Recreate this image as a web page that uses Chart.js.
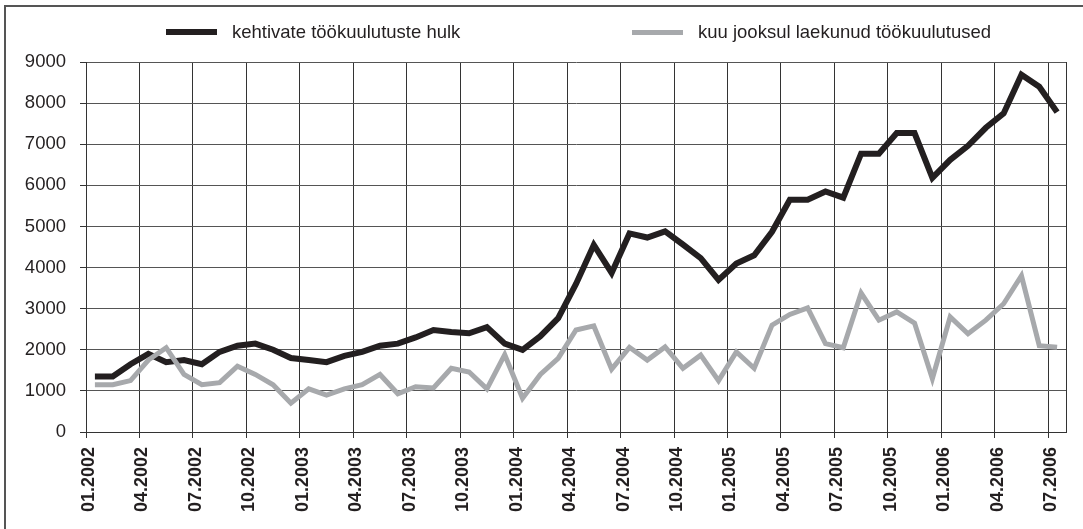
<!DOCTYPE html>
<html>
<head>
<meta charset="utf-8">
<script src="https://cdn.jsdelivr.net/npm/chart.js@4.4.1/dist/chart.umd.min.js"></script>
<style>
html, body { margin: 0; padding: 0; background: #fff; }
#wrap { position: relative; width: 1083px; height: 529px; }
</style>
</head>
<body>
<div id="wrap"><canvas id="graafik" width="1083" height="529"></canvas></div>
<script>
// --- ANDMED ---
const kuud = [
    '01.2002','02.2002','03.2002','04.2002','05.2002','06.2002','07.2002','08.2002','09.2002','10.2002','11.2002','12.2002',
    '01.2003','02.2003','03.2003','04.2003','05.2003','06.2003','07.2003','08.2003','09.2003','10.2003','11.2003','12.2003',
    '01.2004','02.2004','03.2004','04.2004','05.2004','06.2004','07.2004','08.2004','09.2004','10.2004','11.2004','12.2004',
    '01.2005','02.2005','03.2005','04.2005','05.2005','06.2005','07.2005','08.2005','09.2005','10.2005','11.2005','12.2005',
    '01.2006','02.2006','03.2006','04.2006','05.2006','06.2006','07.2006'
];

const tickSildid = [
    '01.2002','04.2002','07.2002','10.2002','01.2003','04.2003','07.2003','10.2003','01.2004','04.2004',
    '07.2004','10.2004','01.2005','04.2005','07.2005','10.2005','01.2006','04.2006','07.2006'
];

const kehtivad = [
    1350, 1350, 1650, 1900, 1700, 1750, 1650, 1950, 2100, 2150, 2000, 1800,
    1750, 1700, 1850, 1950, 2100, 2150, 2300, 2480, 2430, 2400, 2550, 2150,
    2000, 2330, 2770, 3600, 4550, 3870, 4830, 4730, 4880, 4560, 4230, 3700,
    4100, 4300, 4870, 5650, 5650, 5850, 5700, 6770, 6770, 7270, 7270, 6180,
    6620, 6960, 7400, 7750, 8690, 8400, 7780
];

const laekunud = [
    1150, 1150, 1250, 1750, 2050, 1400, 1150, 1200, 1600, 1400, 1150, 700,
    1050, 900, 1050, 1150, 1400, 930, 1100, 1070, 1550, 1460, 1050, 1880,
    820, 1400, 1790, 2480, 2580, 1530, 2060, 1750, 2070, 1550, 1870, 1250,
    1950, 1550, 2600, 2860, 3020, 2150, 2050, 3380, 2720, 2920, 2650, 1300,
    2800, 2390, 2720, 3120, 3800, 2100, 2060
];

const silt1 = 'kehtivate töökuulutuste hulk';
const silt2 = 'kuu jooksul laekunud töökuulutused';

const MUST = '#231f20';
const HALL = '#a7a9ac';
const FONT = "'Liberation Sans', Arial, sans-serif";

function punktid(arr) {
    return arr.map((v, i) => ({ x: i, y: v }));
}

// tickid kuu piiril (iga 3 kuud) + parem serv
const tickKohad = tickSildid.map((_, k) => k * 3 - 0.5);
tickKohad.push(kuud.length - 0.5);

// --- RAAM JA LEGEND ---
const raamJaLegend = {
    id: 'raamJaLegend',
    beforeDraw(chart) {
        const ctx = chart.ctx;
        ctx.save();
        ctx.fillStyle = '#fff';
        ctx.fillRect(0, 0, chart.width, chart.height);
        ctx.strokeStyle = '#555';
        ctx.lineWidth = 2;
        ctx.beginPath();
        ctx.moveTo(5, 560);
        ctx.lineTo(5, 6);
        ctx.lineTo(1100, 6);
        ctx.stroke();
        ctx.restore();
    },
    afterDraw(chart) {
        const ctx = chart.ctx;
        ctx.save();
        ctx.font = '18.5px ' + FONT;
        ctx.textBaseline = 'middle';
        ctx.fillStyle = MUST;
        ctx.fillRect(166, 29, 51, 6);
        ctx.fillText(silt1, 232, 33);
        ctx.fillStyle = HALL;
        ctx.fillRect(632, 30, 51, 5);
        ctx.fillStyle = MUST;
        ctx.fillText(silt2, 698, 33);
        ctx.restore();
    }
};

const ctx = document.getElementById('graafik').getContext('2d');
const graafik = new Chart(ctx, {
    type: 'line',
    data: {
        datasets: [
            {
                label: silt1,
                data: punktid(kehtivad),
                borderColor: MUST,
                backgroundColor: MUST,
                borderWidth: 6,
                borderJoinStyle: 'miter',
                pointRadius: 0,
                tension: 0,
                order: 1
            },
            {
                label: silt2,
                data: punktid(laekunud),
                borderColor: HALL,
                backgroundColor: HALL,
                borderWidth: 5,
                borderJoinStyle: 'miter',
                pointRadius: 0,
                tension: 0,
                order: 0
            }
        ]
    },
    options: {
        responsive: false,
        animation: false,
        layout: { padding: { top: 62, right: 17, bottom: 0, left: 0 } },
        plugins: { legend: { display: false }, tooltip: { enabled: false } },
        scales: {
            x: {
                type: 'linear',
                min: -0.5,
                max: kuud.length - 0.5,
                afterBuildTicks: s => { s.ticks = tickKohad.map(v => ({ value: v })); },
                afterFit: s => { s.height = 97; s.paddingRight = 0; s.paddingLeft = 0; },
                grid: {
                    color: '#333',
                    lineWidth: 1,
                    tickLength: 6,
                    tickColor: c => (c.tick && c.tick.value > kuud.length - 1) ? 'rgba(0,0,0,0)' : '#333'
                },
                border: { color: '#333', width: 1 },
                ticks: {
                    autoSkip: false,
                    maxRotation: 90,
                    minRotation: 90,
                    padding: 9,
                    labelOffset: 3,
                    color: MUST,
                    font: { family: FONT, size: 18, weight: 'bold' },
                    callback: (v, i) => tickSildid[i] || ''
                }
            },
            y: {
                min: 0,
                max: 9000,
                afterFit: s => { s.width = 86; },
                grid: { color: '#555', lineWidth: 1, tickLength: 6, tickColor: '#333' },
                border: { color: '#333', width: 1 },
                ticks: {
                    stepSize: 1000,
                    padding: 14,
                    color: MUST,
                    font: { family: FONT, size: 18.5 },
                    callback: v => String(v)
                }
            }
        }
    },
    plugins: [raamJaLegend]
});
</script>
</body>
</html>
